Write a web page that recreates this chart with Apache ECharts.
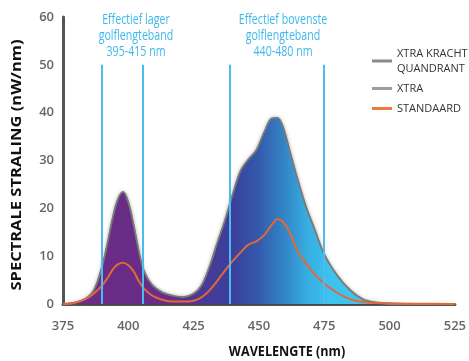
<!DOCTYPE html>
<html>
<head>
<meta charset="utf-8">
<script src="https://cdn.jsdelivr.net/npm/echarts@6/dist/echarts.min.js"></script>
<style>
  html, body { margin: 0; padding: 0; background: #fff; }
  #chart { width: 469px; height: 361px; }
</style>
</head>
<body>
<div id="chart"></div>
<script>
var golflengte = [375, 380, 384, 387, 390, 392, 394, 396, 398, 400, 402, 404, 406, 409, 413, 417, 421, 425, 428, 431, 434, 437, 440, 443, 446, 449, 452, 455, 457, 459, 462, 465, 468, 471, 475, 480, 485, 490, 495, 500, 510, 525]
var xtraKracht = [0, 0.3, 1.2, 3, 7.8, 12.5, 17.8, 21.8, 23.4, 21.2, 16.5, 11, 6.8, 4, 2.4, 1.7, 1.4, 2.1, 3.8, 7.6, 12.6, 17.4, 22.9, 27.8, 30.2, 32.1, 35.8, 38.8, 38.9, 37.3, 31.5, 25.6, 20.3, 16, 10.3, 5.9, 2.8, 0.9, 0.3, 0.1, 0, 0]
var xtra = xtraKracht.slice() // valt samen met XTRA KRACHT QUANDRANT
var standaard = [0, 0.3, 1.1, 2.3, 3.9, 5.4, 7.2, 8.3, 8.6, 8.1, 6.9, 4.8, 3.2, 1.8, 0.9, 0.5, 0.5, 0.7, 1.4, 2.8, 4.8, 7, 9, 10.8, 12.4, 13.1, 14.4, 16.6, 17.7, 17.3, 14.7, 10.9, 8.5, 6.4, 4.3, 2.3, 1, 0.4, 0.2, 0.1, 0.05, 0]
var bandGrenzen = [390, 405.5, 439, 475]
var xTicks = [375, 400, 425, 450, 475, 500, 525]
var yTicks = [0, 10, 20, 30, 40, 50, 60]

function pairs(ys) {
    return golflengte.map(function (x, i) { return [x, ys[i]] })
}

var font = "'Open Sans', sans-serif"
var chart = echarts.init(document.getElementById('chart'))

var option = {
    backgroundColor: '#fff',
    animation: false,
    grid: { left: 63, right: 6, top: 17, bottom: 57 },
    xAxis: {
        type: 'value',
        min: xTicks[0],
        max: xTicks[xTicks.length - 1],
        interval: 25,
        axisLine: { lineStyle: { color: '#555', width: 3 } },
        axisTick: { show: false },
        splitLine: { show: false },
        axisLabel: { color: '#666', fontSize: 13, fontWeight: 600, fontFamily: font, margin: 16 }
    },
    yAxis: {
        type: 'value',
        min: yTicks[0],
        max: yTicks[yTicks.length - 1],
        interval: 10,
        axisLine: { show: true, lineStyle: { color: '#555', width: 3 } },
        axisTick: { show: false },
        splitLine: { show: false },
        axisLabel: { color: '#666', fontSize: 13, fontWeight: 600, fontFamily: font, margin: 9 }
    },
    legend: {
        orient: 'vertical',
        left: 367,
        top: 41,
        itemWidth: 20,
        itemHeight: 3,
        itemGap: 5,
        icon: 'rect',
        textStyle: { color: '#333', fontSize: 11, fontFamily: font, lineHeight: 15 },
        data: [
            { name: 'XTRA KRACHT\nQUANDRANT', itemStyle: { color: '#8a8a8a' } },
            { name: 'XTRA', itemStyle: { color: '#9d9d9d' } },
            { name: 'STANDAARD', itemStyle: { color: '#ef7a3c' } }
        ]
    },
    graphic: [
        {
            type: 'text', x: 287, y: 352, scaleX: 0.84,
            style: {
                text: 'WAVELENGTE (nm)', fill: '#111', font: 'bold 15px ' + font,
                align: 'center', verticalAlign: 'middle'
            }
        },
        {
            type: 'text', x: 17, y: 165, rotation: Math.PI / 2, scaleX: 1.1,
            style: {
                text: 'SPECTRALE STRALING (nW/nm)', fill: '#111', font: 'bold 15px ' + font,
                align: 'center', verticalAlign: 'middle'
            }
        },
        {
            type: 'text', x: 136, y: 12, scaleX: 0.76,
            style: {
                text: 'Effectief lager\ngolflengteband\n395-415 nm', fill: '#3db8ea',
                font: '14px ' + font, lineHeight: 16, align: 'center'
            }
        },
        {
            type: 'text', x: 283, y: 12, scaleX: 0.76,
            style: {
                text: 'Effectief bovenste\ngolflengteband\n440-480 nm', fill: '#3db8ea',
                font: '14px ' + font, lineHeight: 16, align: 'center'
            }
        }
    ],
    series: [
        {
            name: 'XTRA KRACHT\nQUANDRANT',
            type: 'line',
            smooth: 0.35,
            showSymbol: false,
            z: 2,
            itemStyle: { color: '#8a8a8a' },
            lineStyle: { color: '#7a7a7a', width: 1.5 },
            areaStyle: {
                opacity: 1,
                shadowBlur: 4,
                shadowColor: 'rgba(0,0,0,0.55)',
                color: new echarts.graphic.LinearGradient(0, 0, 1, 0, [
                    { offset: 0, color: '#6b2b85' },
                    { offset: 0.28, color: '#672d88' },
                    { offset: 0.36, color: '#473a97' },
                    { offset: 0.43, color: '#3c3f9c' },
                    { offset: 0.5, color: '#345aac' },
                    { offset: 0.56, color: '#3282c4' },
                    { offset: 0.62, color: '#37abe0' },
                    { offset: 0.68, color: '#3ec2ee' },
                    { offset: 1, color: '#45c9f2' }
                ])
            },
            data: pairs(xtraKracht)
        },
        {
            name: 'XTRA',
            type: 'line',
            smooth: 0.35,
            showSymbol: false,
            z: 1,
            itemStyle: { color: '#9d9d9d' },
            lineStyle: { color: '#9d9d9d', width: 2 },
            data: pairs(xtra)
        },
        {
            name: 'STANDAARD',
            type: 'line',
            smooth: 0.35,
            showSymbol: false,
            z: 4,
            itemStyle: { color: '#ef7a3c' },
            lineStyle: { color: '#e2683a', width: 2 },
            data: pairs(standaard)
        },
        {
            // blauwe bandgrenzen
            type: 'line',
            z: 3,
            data: [],
            markLine: {
                silent: true,
                symbol: 'none',
                label: { show: false },
                lineStyle: { color: '#4cbcee', width: 2, type: 'solid' },
                data: bandGrenzen.map(function (x) {
                    return [{ coord: [x, 0] }, { coord: [x, 50] }]
                })
            }
        }
    ]
}

chart.setOption(option)
</script>
</body>
</html>
